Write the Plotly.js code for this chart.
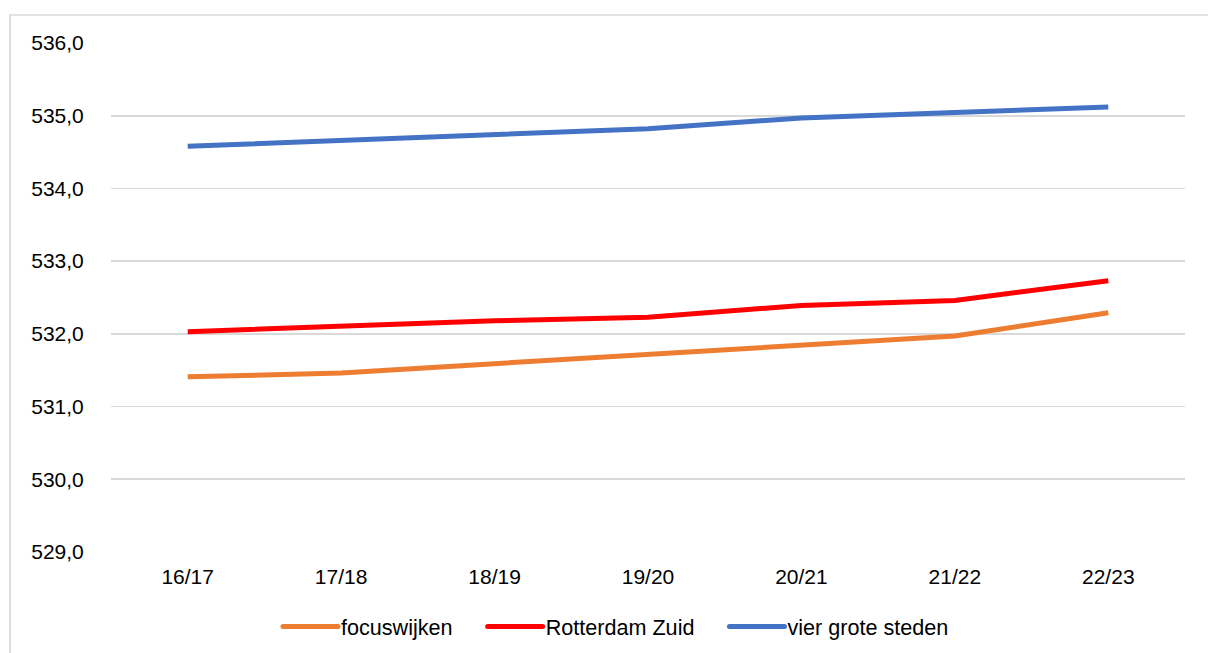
<!DOCTYPE html>
<html>
<head>
<meta charset="utf-8">
<script src="https://cdn.plot.ly/plotly-3.0.1.min.js"></script>
<style>
html,body{margin:0;padding:0;background:#fff;}
#chart{width:1208px;height:653px;}
</style>
</head>
<body>
<div id="chart"></div>
<script>
const categories = ["16/17","17/18","18/19","19/20","20/21","21/22","22/23"];
const focuswijken = [531.41, 531.46, 531.59, 531.72, 531.84, 531.97, 532.29];
const rotterdamZuid = [532.03, 532.10, 532.18, 532.23, 532.39, 532.46, 532.73];
const vierGroteSteden = [534.58, 534.66, 534.75, 534.82, 534.97, 535.05, 535.12];
const seriesNames = ["focuswijken","Rotterdam Zuid","vier grote steden"];
const seriesColors = ["#ED7D31","#FF0000","#4472C4"];
const seriesValues = [focuswijken, rotterdamZuid, vierGroteSteden];

const traces = seriesValues.map((vals, i) => ({
  type: 'scatter',
  mode: 'lines',
  x: categories,
  y: vals,
  name: seriesNames[i],
  line: {color: seriesColors[i], width: 5, shape: 'linear'},
  hoverinfo: 'x+y+name'
}));

const layout = {
  width: 1208,
  height: 653,
  margin: {l: 111, r: 23, t: 43, b: 101, autoexpand: false},
  paper_bgcolor: '#ffffff',
  plot_bgcolor: '#ffffff',
  separators: ',.',
  font: {family: 'Liberation Sans, Arial, sans-serif', size: 21, color: '#000000'},
  showlegend: true,
  legend: {
    orientation: 'h',
    x: (253 - 111) / 1074,
    xanchor: 'left',
    y: (552 - 627) / 509,
    yanchor: 'middle',
    itemwidth: 78,
    font: {size: 21.6, color: '#000000'},
    bgcolor: 'rgba(0,0,0,0)'
  },
  xaxis: {
    type: 'category',
    range: [-0.5, 6.5],
    showgrid: false,
    zeroline: false,
    showline: false,
    automargin: false,
    ticks: 'outside',
    ticklen: 6,
    tickcolor: 'rgba(0,0,0,0)',
    tickfont: {size: 21, color: '#000000'},
    fixedrange: true
  },
  yaxis: {
    range: [529, 536],
    tick0: 529,
    dtick: 1,
    tickformat: '.1f',
    showgrid: true,
    gridcolor: '#d9d9d9',
    gridwidth: 1.7,
    zeroline: false,
    showline: false,
    automargin: false,
    ticks: 'outside',
    ticklen: 22,
    tickcolor: 'rgba(0,0,0,0)',
    tickfont: {size: 21, color: '#000000'},
    fixedrange: true
  },
  shapes: [{
    type: 'rect',
    xref: 'paper', yref: 'paper',
    x0: (10 - 111) / 1074, x1: (1240 - 111) / 1074,
    y0: (552 - 700) / 509, y1: 1 + (43 - 15) / 509,
    line: {color: '#d9d9d9', width: 1.7},
    fillcolor: 'rgba(0,0,0,0)',
    layer: 'below'
  }]
};

const gd = document.getElementById('chart');
Plotly.newPlot(gd, traces, layout, {displayModeBar: false, staticPlot: true}).then(() => {
  gd.querySelectorAll('.legend .traces').forEach(tr => {
    const t = tr.querySelector('text.legendtext');
    const tx = parseFloat(t.getAttribute('x')) || 0;
    tr.querySelectorAll('.legendlines path').forEach(p => {
      p.setAttribute('d', 'M' + (tx - 58) + ',0h55');
      p.style.strokeLinecap = 'round';
    });
  });
});
</script>
</body>
</html>
